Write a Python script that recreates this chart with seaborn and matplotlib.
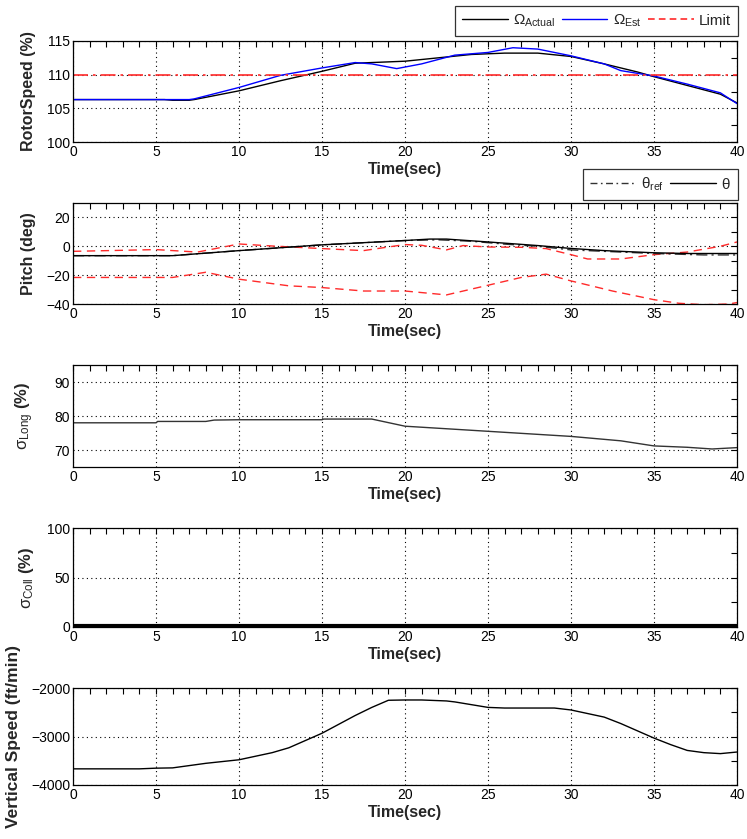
import matplotlib
matplotlib.use("Agg")
import matplotlib.pyplot as plt
from matplotlib.ticker import MultipleLocator
from matplotlib.lines import Line2D
import seaborn as sns
import pandas as pd

# ---------------- data ----------------
t_rs_act = [0, 5.5, 6, 7, 7.3, 10, 12.5, 15, 17, 18, 20, 22, 24, 26, 28, 30, 32, 34, 35, 37, 39, 40]
rs_act = [106.3, 106.3, 106.2, 106.2, 106.3, 107.6, 109.1, 110.5, 111.7, 111.8, 112.0, 112.5, 113.0, 113.2, 113.2, 112.7, 111.6, 110.4, 109.7, 108.4, 107.1, 105.8]
t_rs_est = [0, 5.5, 6, 7, 7.3, 10, 12.5, 15, 16.5, 17, 18, 19.5, 21, 23, 25, 26.5, 28, 30, 32, 33, 35, 37, 39, 40]
rs_est = [106.3, 106.3, 106.3, 106.3, 106.4, 108.1, 109.9, 111.0, 111.6, 111.8, 111.6, 110.9, 111.6, 112.9, 113.3, 114.0, 113.8, 112.8, 111.6, 110.6, 109.8, 108.6, 107.3, 105.7]
rs_limit = 110.0

t_pitch = [0, 6, 10, 15, 20, 21.5, 22.5, 25, 28, 30, 32, 35, 37, 40]
theta = [-6.5, -6.5, -3.0, 1.0, 4.0, 5.0, 5.0, 3.0, 0.5, -1.5, -3.0, -4.5, -5.0, -5.0]
t_ref = [0, 6, 10, 15, 20, 22, 24, 26, 28, 30, 32, 35, 38, 40]
theta_ref = [-6.5, -6.5, -3.0, 1.0, 4.0, 4.5, 3.5, 1.5, 0.0, -2.5, -3.5, -5.0, -6.0, -6.0]
t_up = [0, 5, 7.5, 10, 12, 15, 17.5, 20, 21, 22.5, 23.5, 25, 27, 28.5, 30, 31, 33, 35, 37, 39, 40]
pitch_upper = [-3.5, -2.3, -4.0, 1.6, 0.2, -1.6, -3.0, 1.2, 0.7, -2.5, 0.5, -0.5, -0.7, -1.6, -5.8, -8.8, -8.8, -5.8, -4.0, 0.0, 3.0]
t_lo = [0, 6, 8, 10, 13, 15, 17.5, 20, 22.5, 25, 27, 28.5, 30, 32.5, 35, 36.5, 38, 39.5, 40]
pitch_lower = [-21.6, -21.6, -18.0, -22.8, -27.4, -28.6, -31.0, -31.0, -33.7, -27.0, -21.6, -19.3, -24.0, -31.0, -37.0, -39.5, -40.5, -40.0, -39.0]

t_long = [0, 5, 5.1, 8, 8.5, 10, 15, 15.1, 18, 20, 25, 30, 33, 35, 37, 38.5, 40]
sigma_long = [78.0, 78.0, 78.4, 78.4, 78.8, 78.9, 78.9, 79.1, 79.1, 77.0, 75.5, 74.0, 72.7, 71.2, 70.8, 70.3, 70.7]

t_coll = [0, 40]
sigma_coll = [0.8, 0.8]

t_vs = [0, 4, 5, 6, 8, 10, 12, 13, 15, 17, 18, 19, 20, 21, 22.5, 23, 25, 26, 29, 30, 32, 33, 35, 36, 37, 38, 39, 40]
vspeed = [-3667, -3667, -3653, -3647, -3553, -3480, -3333, -3233, -2933, -2567, -2400, -2253, -2247, -2247, -2267, -2287, -2400, -2413, -2413, -2453, -2600, -2733, -3033, -3167, -3287, -3333, -3353, -3320]

# ---------------- style ----------------
sns.set_style("white")
base = "Liberation Sans"
plt.rcParams["font.family"] = [base, "DejaVu Sans"]
plt.rcParams["mathtext.fontset"] = "custom"
plt.rcParams["mathtext.rm"] = base
plt.rcParams["mathtext.it"] = base
plt.rcParams["mathtext.bf"] = base + ":bold"

fig = plt.figure(figsize=(7.47, 8.39), dpi=100)
W = 747.0
H = 839.0
left = 73 / W
width = (737 - 73) / W
rows = [(41, 142), (203, 304), (365, 467), (528, 627), (688, 785)]
axes = [fig.add_axes([left, 1 - b / H, width, (b - t) / H]) for t, b in rows]

tickfont = 10
labfont = 11.5
RED = "#ff2a2a"


def style(ax, ylim, ymaj, ymin):
    ax.set_xlim(0, 40)
    ax.set_ylim(*ylim)
    ax.xaxis.set_major_locator(MultipleLocator(5))
    ax.xaxis.set_minor_locator(MultipleLocator(1))
    ax.yaxis.set_major_locator(MultipleLocator(ymaj))
    ax.yaxis.set_minor_locator(MultipleLocator(ymin))
    ax.tick_params(which="both", direction="in", top=True, right=True,
                   length=4, width=0.8, colors="black", labelsize=tickfont, pad=2)
    ax.grid(True, which="major", linestyle=(0, (1, 3)), color="black", linewidth=0.8)
    for s in ax.spines.values():
        s.set_color("black")
        s.set_linewidth(0.9)
    ax.set_xlabel("Time(sec)", fontsize=labfont, fontweight="bold", labelpad=2)


legkw = dict(fontsize=11, frameon=True, fancybox=False, edgecolor="black",
             handlelength=3.0, columnspacing=0.4, handletextpad=0.35,
             borderpad=0.45, borderaxespad=0)

# panel 1
ax = axes[0]
sns.lineplot(x=t_rs_act, y=rs_act, ax=ax, color="black", linewidth=1.0)
sns.lineplot(x=t_rs_est, y=rs_est, ax=ax, color="#0000ff", linewidth=1.0)
ax.axhline(rs_limit, color=RED, linewidth=1.2, linestyle=(0, (9, 3, 1.5, 3)))
style(ax, (100, 115), 5, 2.5)
ax.set_ylabel("RotorSpeed (%)", fontsize=labfont, fontweight="bold")
handles = [Line2D([], [], color="black", lw=1.0),
           Line2D([], [], color="#0000ff", lw=1.0),
           Line2D([], [], color=RED, lw=1.2, linestyle=(0, (4, 2.5)))]
labels = [r"$\Omega_{\mathrm{Actual}}$", r"$\Omega_{\mathrm{Est}}$", "Limit"]
leg = ax.legend(handles, labels, loc="lower right", bbox_to_anchor=(1.0015, 1.05), ncol=3, **legkw)
leg.get_frame().set_linewidth(0.9)

# panel 2
ax = axes[1]
sns.lineplot(x=t_up, y=pitch_upper, ax=ax, color=RED, linewidth=1.0, linestyle=(0, (6, 4)))
sns.lineplot(x=t_lo, y=pitch_lower, ax=ax, color=RED, linewidth=1.0, linestyle=(0, (6, 4)))
sns.lineplot(x=t_ref, y=theta_ref, ax=ax, color="#333333", linewidth=1.0, linestyle=(0, (8, 3, 1.5, 3)))
sns.lineplot(x=t_pitch, y=theta, ax=ax, color="black", linewidth=1.0)
style(ax, (-40, 30), 20, 10)
ax.set_ylabel("Pitch (deg)", fontsize=labfont, fontweight="bold")
handles = [Line2D([], [], color="#333333", lw=1.0, linestyle=(0, (5, 2.5, 1.2, 2.5))),
           Line2D([], [], color="black", lw=1.0)]
labels = [r"$\theta_{\mathrm{ref}}$", r"$\theta$"]
leg = ax.legend(handles, labels, loc="lower right", bbox_to_anchor=(1.0015, 1.03), ncol=2, **legkw)
leg.get_frame().set_linewidth(0.9)

# panel 3
ax = axes[2]
sns.lineplot(x=t_long, y=sigma_long, ax=ax, color="#333333", linewidth=1.0)
style(ax, (65, 95), 10, 5)
ax.set_ylabel(r"$\sigma_{\mathrm{Long}}$ $\bf{(\%)}$", fontsize=labfont + 0.5)

# panel 4
ax = axes[3]
sns.lineplot(x=t_coll, y=sigma_coll, ax=ax, color="black", linewidth=3.0)
style(ax, (0, 100), 50, 25)
ax.set_ylabel(r"$\sigma_{\mathrm{Coll}}$ $\bf{(\%)}$", fontsize=labfont + 0.5)

# panel 5
ax = axes[4]
sns.lineplot(x=t_vs, y=vspeed, ax=ax, color="black", linewidth=1.0)
style(ax, (-4000, -2000), 1000, 500)
ax.set_ylabel("Vertical Speed (ft/min)", fontsize=12.5, fontweight="bold")

for a in axes[:4]:
    a.yaxis.set_label_coords(-0.055, 0.5)
axes[4].yaxis.set_label_coords(-0.078, 0.5)

fig.savefig("out.png", dpi=100)
